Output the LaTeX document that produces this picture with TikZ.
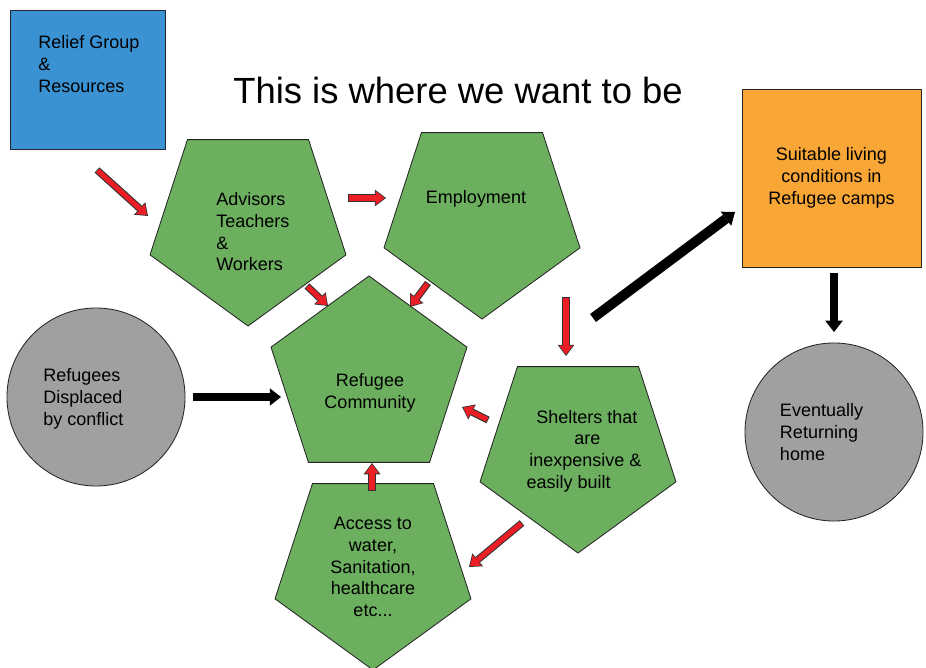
\documentclass[tikz,border=0pt]{standalone}
\usepackage{fontspec}
\setmainfont{Liberation Sans}
\usetikzlibrary{shapes.geometric}
\usetikzlibrary{arrows.meta}
\definecolor{pgreen}{RGB}{108,175,95}
\definecolor{rblue}{RGB}{58,146,210}
\definecolor{camporange}{RGB}{248,166,54}
\definecolor{cgray}{RGB}{160,160,160}
\definecolor{arrred}{RGB}{234,30,36}
\tikzset{pent/.style = {regular polygon, regular polygon sides=5,
                        draw=black!85, line width=0.6pt, fill=pgreen,
                        minimum size=5.15cm, inner sep=0pt}}
\tikzset{pentdown/.style = {pent, shape border rotate=180}}
\tikzset{box/.style = {rectangle, draw=black!85, line width=0.6pt, inner sep=0pt}}
\tikzset{disc/.style = {circle, draw=black!85, line width=0.6pt, fill=cgray,
                        minimum size=4.45cm, inner sep=0pt, align=left}}
\tikzset{txt/.style = {inner sep=0pt}}
\tikzset{redarr/.style = {draw=arrred, line width=3.6pt,
    -{Triangle[length=6.4pt, width=9.8pt, line width=0pt]},
    shorten >=1pt, shorten <=0.7pt,
    preaction={draw=black!80, line width=5.1pt,
      -{Triangle[length=8pt, width=12pt, line width=0pt]},
      shorten >=0pt, shorten <=0pt}}}
\tikzset{blackarr/.style = {draw=black, line width=6pt,
    -{Triangle[length=8pt, width=12.5pt, line width=0pt]}}}

\begin{document}
\begin{tikzpicture}[x=0.025cm, y=-0.025cm, font=\fontsize{12.8}{15.4}\selectfont]
  \useasboundingbox (0,0) rectangle (926,668);
  % boxes and title
  \node[box, fill=rblue, minimum width=3.875cm, minimum height=3.475cm]
    (relief) at (87.5,79.5) {};
  \node[txt, anchor=west, align=left] (relieftext) at (38,64)
    {Relief Group\\\&\\Resources};
  \node[txt, font=\fontsize{25.9}{30}\selectfont] (title) at (458,90)
    {This is where we want to be};
  \node[box, fill=camporange, minimum width=4.475cm, minimum height=4.45cm,
    align=center] (camp) at (831.5,178)
    {Suitable living\\conditions in\\Refugee camps};
  % pentagons
  \node[pentdown] (adv) at (248,223) {};
  \node[txt, anchor=west, align=left] (advtext) at (216,232)
    {Advisors\\Teachers\\\&\\Workers};
  \node[pentdown] (emp) at (482,216) {};
  \node[txt] (emptext) at (476,199) {Employment};
  \node[pent] (comm) at (369,379) {};
  \node[txt, align=center] (commtext) at (370,393) {Refugee\\Community};
  \node[pentdown] (shel) at (578,450) {};
  \node[txt, align=left] (sheltext) at (584,451)
    {\hspace*{7pt}Shelters that\\\hspace*{34pt}are\\
     \hspace*{2pt}inexpensive \&\\easily built};
  \node[pentdown, align=center] (acc) at (373,567)
    {Access to\\water,\\Sanitation,\\healthcare\\etc...};
  % circles
  \node[disc] (refu) at (96,397) {};
  \node[txt, anchor=west, align=left] (refutext) at (43,399)
    {Refugees\\Displaced\\by conflict};
  \node[disc, text width=2.7cm] (home) at (834,432)
    {Eventually\\Returning\\home};
  % arrow ends
  \coordinate (ra1) at (97,170);  \coordinate (rb1) at (148,216);
  \coordinate (ra2) at (348,198); \coordinate (rb2) at (386,198);
  \coordinate (ra3) at (307,286); \coordinate (rb3) at (328,306);
  \coordinate (ra4) at (428,283); \coordinate (rb4) at (410,307);
  \coordinate (ra5) at (566,297); \coordinate (rb5) at (566,356);
  \coordinate (ra6) at (488,420); \coordinate (rb6) at (462,407);
  \coordinate (ra7) at (522,523); \coordinate (rb7) at (469,567);
  \coordinate (ra8) at (372,491); \coordinate (rb8) at (372,463);
  \coordinate (ba1) at (193,397); \coordinate (bb1) at (281,397);
  \coordinate (ba2) at (593,318); \coordinate (bb2) at (735,212);
  \coordinate (ba3) at (834,273); \coordinate (bb3) at (834,332);
  % red arrows
  \draw[redarr] (ra1) -- (rb1);
  \draw[redarr] (ra2) -- (rb2);
  \draw[redarr] (ra3) -- (rb3);
  \draw[redarr] (ra4) -- (rb4);
  \draw[redarr] (ra5) -- (rb5);
  \draw[redarr] (ra6) -- (rb6);
  \draw[redarr] (ra7) -- (rb7);
  \draw[redarr] (ra8) -- (rb8);
  % black arrows
  \draw[blackarr] (ba1) -- (bb1);
  \draw[blackarr, line width=7pt] (ba2) -- (bb2);
  \draw[blackarr, line width=5.4pt] (ba3) -- (bb3);
\end{tikzpicture}
\end{document}
